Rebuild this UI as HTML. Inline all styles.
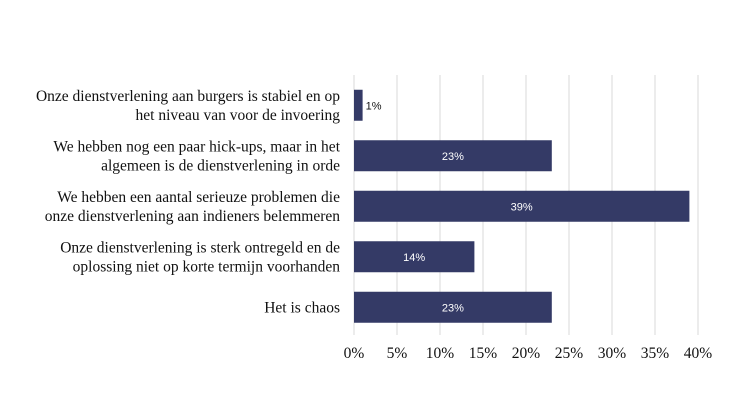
<!DOCTYPE html>
<html><head><meta charset="utf-8"><style>
body{margin:0;background:#fff;}
svg{display:block;}
.cat{font-family:"Liberation Serif",serif;font-size:15.5px;fill:#111;}
.tick{font-family:"Liberation Serif",serif;font-size:15.5px;fill:#111;}
.val{font-family:"Liberation Sans",sans-serif;font-size:11px;}
</style></head><body>
<svg id="chart" width="730" height="410" xmlns="http://www.w3.org/2000/svg"></svg>
<script>
const categories=[
 ["Onze dienstverlening aan burgers is stabiel en op","het niveau van voor de invoering"],
 ["We hebben nog een paar hick-ups, maar in het","algemeen is de dienstverlening in orde"],
 ["We hebben een aantal serieuze problemen die","onze dienstverlening aan indieners belemmeren"],
 ["Onze dienstverlening is sterk ontregeld en de","oplossing niet op korte termijn voorhanden"],
 ["Het is chaos"]
];
const values=[1,23,39,14,23];
const ticks=[0,5,10,15,20,25,30,35,40];
const svg=document.getElementById('chart');
const NS='http://www.w3.org/2000/svg';
const x0=354,pxPer=8.6;
const xs=v=>x0+v*pxPer;
const chartTop=80,band=50.5,barH=31;
const yb=i=>chartTop+i*band+(band-barH)/2;
function mk(t,a,p){const e=document.createElementNS(NS,t);for(const k in a)e.setAttribute(k,a[k]);(p||svg).appendChild(e);return e;}
ticks.forEach((t,i)=>{
 const l=mk('line',{x1:xs(t),x2:xs(t),y1:75,y2:335,stroke:'#d9d9d9','stroke-width':1});
 
 
 const tx=mk('text',{x:xs(t),y:358,'text-anchor':'middle',class:'tick'});
 tx.textContent=t+'%';
 
 
});
categories.forEach((lines,i)=>{
 const cy=yb(i)+barH/2;
 const tx=mk('text',{x:340,y:0,'text-anchor':'end',class:'cat'});
 
 
 lines.forEach((s,j)=>{const ts=mk('tspan',{x:340,y:cy+5+(j-(lines.length-1)/2)*19},tx);ts.textContent=s;});
 const v=values[i];
 const r=mk('rect',{x:x0,y:yb(i),width:xs(v)-x0,height:barH,fill:'#343a66'});
 
 
 const inside=(xs(v)-x0)>30;
 const lb=mk('text',{x:inside?(x0+xs(v))/2:xs(v)+3,y:cy+4,'text-anchor':inside?'middle':'start',class:'val',fill:inside?'#fff':'#111'});
 lb.textContent=v+'%';
 
 
});
</script>
</body></html>
